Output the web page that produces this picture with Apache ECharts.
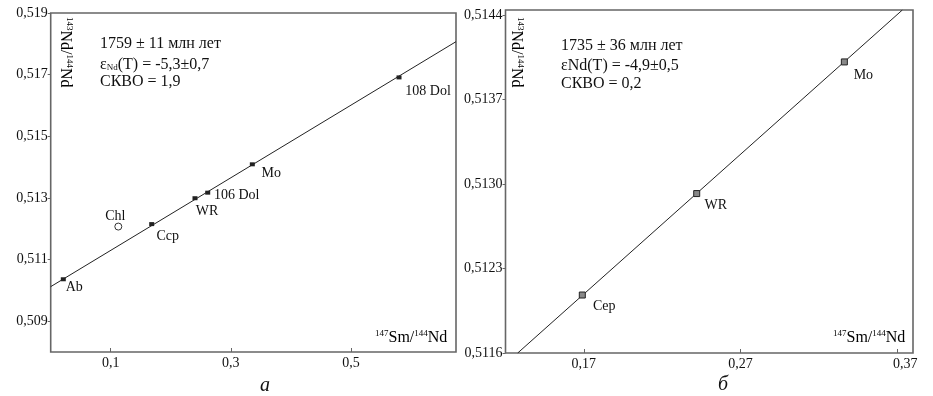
<!DOCTYPE html>
<html>
<head>
<meta charset="utf-8">
<script src="https://cdn.jsdelivr.net/npm/echarts@6/dist/echarts.min.js"></script>
<style>html,body{margin:0;padding:0;background:#fff;}#c{width:933px;height:396px;}</style>
</head>
<body>
<div id="c"></div>
<script>
// ---- data: panel а ----
const leftNames = ['Ab', 'Ccp', 'WR', '106 Dol', 'Mo', '108 Dol'];
const leftX = [0.021, 0.1682, 0.2403, 0.2615, 0.3358, 0.5801];
const leftY = [0.51036, 0.51215, 0.51299, 0.51317, 0.51409, 0.51691];
const leftOpenNames = ['Chl'];
const leftOpenX = [0.1126];
const leftOpenY = [0.51207];
const leftLineX = [0, 0.675];
const leftLineY = [0.51012, 0.51807];
const leftXTicks = [0.1, 0.3, 0.5];
const leftYTicks = [0.509, 0.511, 0.513, 0.515, 0.517, 0.519];
const leftText = ['1759 ± 11 млн лет', '-5,3±0,7', 'СКВО = 1,9'];

// ---- data: panel б ----
const rightNames = ['Cep', 'WR', 'Mo'];
const rightX = [0.169, 0.2420, 0.3362];
const rightY = [0.51208, 0.51292, 0.51401];
const rightLineX = [0.1278, 0.3732];
const rightLineY = [0.5116, 0.51444];
const rightXTicks = [0.17, 0.27, 0.37];
const rightYTicks = [0.5116, 0.5123, 0.5130, 0.5137, 0.5144];
const rightText = ['1735 ± 36 млн лет', 'εNd(T) = -4,9±0,5', 'СКВО = 0,2'];

// ---- style config (label offsets, px) ----
const labelOffsets = {
  'Ab': [11, 8], 'Chl': [-3, -10], 'Ccp': [16, 12], 'WR': [12, 13],
  '106 Dol': [29, 3], 'Mo': [19, 9], '108 Dol': [29, 14]
};
const labelOffsetsRight = { 'Cep': [22, 11], 'WR': [19, 12], 'Mo': [19, 13] };

const SERIF = "'Liberation Serif', 'Times New Roman', serif";
const INK = '#111';
const FRAME = '#666';

function pts(names, xs, ys, offs) {
  return names.map((n, i) => ({
    name: n, value: [xs[i], ys[i]],
    label: { offset: offs[n] }
  }));
}
function comma(v, d) { return v.toFixed(d).replace('.', ','); }

function yAxisCfg(gi, min, max, ticks, dec) {
  return {
    type: 'value', gridIndex: gi, min: min, max: max,
    axisLine: { show: false },
    splitLine: { show: false },
    axisTick: { show: true, customValues: ticks, length: 3, lineStyle: { color: FRAME, width: 1 } },
    axisLabel: { customValues: ticks, formatter: v => comma(v, dec), fontFamily: SERIF, fontSize: 14, color: INK, margin: 3, showMinLabel: true, showMaxLabel: true }
  };
}
function xAxisCfg(gi, min, max, ticks, dec, shiftLast) {
  return {
    type: 'value', gridIndex: gi, min: min, max: max,
    axisLine: { show: false },
    splitLine: { show: false },
    axisTick: { show: true, inside: true, customValues: ticks, length: 4, lineStyle: { color: FRAME, width: 1 } },
    axisLabel: {
      customValues: ticks,
      formatter: v => (shiftLast && Math.abs(v - ticks[ticks.length - 1]) < 1e-9) ? '{r|' + comma(v, dec) + '}' : comma(v, dec),
      rich: { r: { fontFamily: SERIF, fontSize: 14, color: INK, padding: [0, 0, 0, 16] } },
      fontFamily: SERIF, fontSize: 14, color: INK, margin: 4, showMinLabel: true, showMaxLabel: true
    }
  };
}

const labelBase = { show: true, position: 'inside', formatter: '{b}', fontFamily: SERIF, fontSize: 14, color: INK, align: 'center', verticalAlign: 'middle', opacity: 1 };
const supRich = { fontFamily: SERIF, fontSize: 9, color: INK, padding: [0, 0, 8, 0] };
const mainRich = { fontFamily: SERIF, fontSize: 16, color: INK };

const chart = echarts.init(document.getElementById('c'), null, { renderer: 'canvas' });
chart.setOption({
  backgroundColor: '#fff',
  animation: false,
  grid: [
    { left: 50.7, top: 13, width: 405.3, height: 339, show: true, borderColor: FRAME, borderWidth: 1.6, backgroundColor: 'transparent' },
    { left: 505.5, top: 10, width: 407.5, height: 343, show: true, borderColor: FRAME, borderWidth: 1.6, backgroundColor: 'transparent' }
  ],
  xAxis: [
    xAxisCfg(0, 0, 0.675, leftXTicks, 1, false),
    xAxisCfg(1, 0.12, 0.38, rightXTicks, 2, true)
  ],
  yAxis: [
    yAxisCfg(0, 0.508, 0.519, leftYTicks, 3),
    yAxisCfg(1, 0.5116, 0.51444, rightYTicks, 4)
  ],
  series: [
    { type: 'line', xAxisIndex: 0, yAxisIndex: 0, data: leftLineX.map((x, i) => [x, leftLineY[i]]), showSymbol: false, symbol: 'none', lineStyle: { color: '#222', width: 1 }, z: 2, silent: true },
    { type: 'scatter', xAxisIndex: 0, yAxisIndex: 0, data: pts(leftNames, leftX, leftY, labelOffsets), symbol: 'rect', symbolSize: [5, 4], itemStyle: { color: '#222', opacity: 1 }, label: labelBase, z: 3 },
    { type: 'scatter', xAxisIndex: 0, yAxisIndex: 0, data: pts(leftOpenNames, leftOpenX, leftOpenY, labelOffsets), symbol: 'circle', symbolSize: 7, itemStyle: { color: '#fff', borderColor: '#333', borderWidth: 1, opacity: 1 }, label: labelBase, z: 3 },
    { type: 'line', xAxisIndex: 1, yAxisIndex: 1, data: rightLineX.map((x, i) => [x, rightLineY[i]]), showSymbol: false, symbol: 'none', lineStyle: { color: '#222', width: 1 }, z: 2, silent: true },
    { type: 'scatter', xAxisIndex: 1, yAxisIndex: 1, data: pts(rightNames, rightX, rightY, labelOffsetsRight), symbol: 'rect', symbolSize: 6, itemStyle: { color: '#888', borderColor: '#222', borderWidth: 1, opacity: 1 }, label: labelBase, z: 3 }
  ],
  graphic: [
    // panel а annotations
    { type: 'text', left: 100, top: 36, style: { text: leftText[0], font: '16px ' + SERIF, fill: INK } },
    { type: 'text', left: 100, top: 57, style: { text: 'ε{sub|Nd}(T) = ' + leftText[1], rich: { sub: { fontFamily: SERIF, fontSize: 9, color: INK, padding: [6, 0, 0, 0] } }, font: '16px ' + SERIF, fill: INK } },
    { type: 'text', left: 100, top: 74, style: { text: leftText[2], font: '16px ' + SERIF, fill: INK } },
    { type: 'text', x: 65, y: 17, rotation: -Math.PI / 2, style: { text: '{s|143}{m|Nd/}{s|144}{m|Nd}', rich: { s: supRich, m: mainRich }, align: 'left', verticalAlign: 'middle' } },
    { type: 'text', x: 375, y: 338, style: { text: '{s|147}{m|Sm/}{s|144}{m|Nd}', rich: { s: supRich, m: mainRich }, align: 'left', verticalAlign: 'middle' } },
    { type: 'text', x: 265, y: 386, style: { text: 'а', font: 'italic 20px ' + SERIF, fill: INK, align: 'center', verticalAlign: 'middle' } },
    // panel б annotations
    { type: 'text', left: 561, top: 38, style: { text: rightText[0], font: '16px ' + SERIF, fill: INK } },
    { type: 'text', left: 561, top: 58, style: { text: rightText[1], font: '16px ' + SERIF, fill: INK } },
    { type: 'text', left: 561, top: 76, style: { text: rightText[2], font: '16px ' + SERIF, fill: INK } },
    { type: 'text', x: 516, y: 17, rotation: -Math.PI / 2, style: { text: '{s|143}{m|Nd/}{s|144}{m|Nd}', rich: { s: supRich, m: mainRich }, align: 'left', verticalAlign: 'middle' } },
    { type: 'text', x: 833, y: 338, style: { text: '{s|147}{m|Sm/}{s|144}{m|Nd}', rich: { s: supRich, m: mainRich }, align: 'left', verticalAlign: 'middle' } },
    { type: 'text', x: 723, y: 385, style: { text: 'б', font: 'italic 20px ' + SERIF, fill: INK, align: 'center', verticalAlign: 'middle' } }
  ]
});
</script>
</body>
</html>
